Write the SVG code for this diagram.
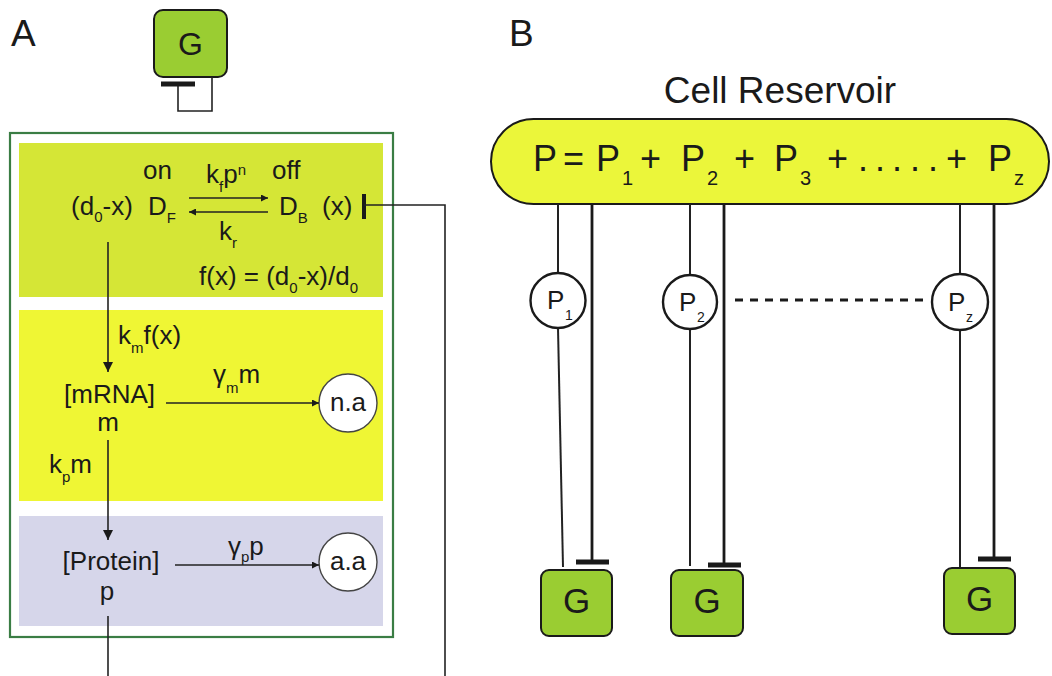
<svg xmlns="http://www.w3.org/2000/svg" width="1052" height="676" viewBox="0 0 1052 676">
<defs>
<style>
text{font-family:"Liberation Sans",Arial,sans-serif;fill:#1a1a1a}
.lbl{font-size:37px}
.t{font-size:26px}
.s{font-size:15px}
.big{font-size:36px}
.bs{font-size:20px}
.cp{font-size:26px}
.cs{font-size:14px}
.ln{stroke:#222;stroke-width:1.6;fill:none}
.thin{stroke:#222;stroke-width:2;fill:none}
.thick{stroke:#1a1a1a;stroke-width:2.8;fill:none}
.bar{stroke:#1a1a1a;stroke-width:5;fill:none}
.gbox{fill:#9acd32;stroke:#1a1a1a;stroke-width:2}
.circ{fill:#fff;stroke:#1a1a1a;stroke-width:2.4}
.sink{fill:#fff;stroke:#444;stroke-width:1.4}
</style>
<marker id="ah" viewBox="0 0 10 10" refX="10" refY="5" markerWidth="9" markerHeight="7" markerUnits="userSpaceOnUse" orient="auto"><path d="M0,0 L10,5 L0,10 Z" fill="#1a1a1a"/></marker>
<marker id="ahb" viewBox="0 0 10 10" refX="10" refY="5" markerWidth="10" markerHeight="10" markerUnits="userSpaceOnUse" orient="auto"><path d="M0,0 L10,5 L0,10 Z" fill="#1a1a1a"/></marker>
</defs>
<rect width="1052" height="676" fill="#fff"/>

<text class="lbl" x="11" y="46">A</text>
<text class="lbl" x="509" y="46">B</text>

<g id="geneA">
<rect class="gbox" x="154" y="10" width="73" height="67" rx="9"/>
<text x="190.5" y="55" font-size="32" text-anchor="middle">G</text>
</g>

<g id="cellA">
<rect x="10" y="133" width="383" height="504" fill="#fff" stroke="#3a7d44" stroke-width="2.2"/>
</g>

<g id="panelDNA">
<rect x="19" y="143" width="364" height="154" fill="#d5e636"/>
<text class="t" x="143" y="179">on</text>
<text class="t" x="272" y="179">off</text>
<text class="t" x="206" y="183">k<tspan class="s" dy="9">f</tspan><tspan dy="-9">p</tspan><tspan class="s" dy="-8">n</tspan></text>
<text class="t" x="71" y="215">(d<tspan class="s" dy="7">0</tspan><tspan dy="-7">-x)</tspan></text>
<text class="t" x="148" y="215">D<tspan class="s" dy="8">F</tspan></text>
<text class="t" x="279" y="215">D<tspan class="s" dy="8">B</tspan></text>
<text class="t" x="322" y="215">(x)</text>
<text class="t" x="219" y="240">k<tspan class="s" dy="8">r</tspan></text>
<text class="t" x="199" y="285">f(x) = (d<tspan class="s" dy="8">0</tspan><tspan dy="-8">-x)/d</tspan><tspan class="s" dy="8">0</tspan></text>
</g>

<g id="panelMRNA">
<rect x="19" y="310" width="364" height="191" fill="#eff634"/>
<text class="t" x="118" y="344">k<tspan class="s" dy="9">m</tspan><tspan dy="-9">f(x)</tspan></text>
<text class="t" x="109.5" y="403" text-anchor="middle">[mRNA]</text>
<text class="t" x="108" y="431" text-anchor="middle">m</text>
<text class="t" x="213" y="383">γ<tspan class="s" dy="10">m</tspan><tspan dy="-10">m</tspan></text>
<text class="t" x="49" y="473">k<tspan class="s" dy="9">p</tspan><tspan dy="-9">m</tspan></text>
</g>

<g id="sinkNA">
<circle class="sink" cx="348" cy="403" r="29"/>
<text class="t" x="348" y="411" text-anchor="middle">n.a</text>
</g>

<g id="panelProtein">
<rect x="19" y="516" width="364" height="110" fill="#d6d6ea"/>
<text class="t" x="111" y="570" text-anchor="middle">[Protein]</text>
<text class="t" x="107" y="600" text-anchor="middle">p</text>
<text class="t" x="228" y="555">γ<tspan class="s" dy="7">p</tspan><tspan dy="-7">p</tspan></text>
</g>

<g id="sinkAA">
<circle class="sink" cx="348" cy="562" r="29"/>
<text class="t" x="348" y="570" text-anchor="middle">a.a</text>
</g>

<g id="reservoir">
<text x="780" y="103" font-size="37" text-anchor="middle">Cell Reservoir</text>
<rect x="491" y="119" width="558" height="85" rx="42.5" fill="#ebf63a" stroke="#1a1a1a" stroke-width="2"/>
<text class="big" x="533" y="171">P</text>
<text class="big" x="563" y="171">=</text>
<text class="big" x="596" y="171">P</text><text class="bs" x="622" y="185">1</text>
<text class="big" x="640" y="171">+</text>
<text class="big" x="681" y="171">P</text><text class="bs" x="707" y="185">2</text>
<text class="big" x="734" y="171">+</text>
<text class="big" x="774" y="171">P</text><text class="bs" x="800" y="185">3</text>
<text class="big" x="827" y="171">+</text>
<text class="big" x="858 875 892 910 928" y="171">.....</text>
<text class="big" x="946" y="171">+</text>
<text class="big" x="988" y="171">P</text><text class="bs" x="1014" y="185">z</text>
</g>

<g id="connectors">
<!-- panel A -->
<path class="ln" d="M212,77 V111 H178 V86"/>
<line class="bar" x1="161" y1="84" x2="195" y2="84"/>
<line class="ln" x1="189" y1="198" x2="268" y2="198" marker-end="url(#ah)"/>
<line class="ln" x1="268" y1="212" x2="189" y2="212" marker-end="url(#ah)"/>
<line x1="364" y1="194" x2="364" y2="219" stroke="#1a1a1a" stroke-width="4"/>
<path class="ln" d="M364,205 H445 V676"/>
<line class="ln" x1="108" y1="242" x2="108" y2="372" marker-end="url(#ahb)"/>
<line class="ln" x1="108" y1="440" x2="108" y2="540" marker-end="url(#ahb)"/>
<line class="ln" x1="166" y1="403" x2="319" y2="403" marker-end="url(#ah)"/>
<line class="ln" x1="175" y1="565" x2="319" y2="565" marker-end="url(#ah)"/>
<line class="ln" x1="108" y1="616" x2="108" y2="676"/>
<!-- panel B -->
<line class="thin" x1="558" y1="204" x2="558" y2="273"/>
<line class="thin" x1="558" y1="328" x2="563" y2="567"/>
<line class="thick" x1="592" y1="204" x2="592" y2="562"/>
<line class="bar" x1="576" y1="562" x2="609" y2="562"/>
<line class="thin" x1="690" y1="204" x2="690" y2="275"/>
<line class="thin" x1="690" y1="329" x2="690" y2="566"/>
<line class="thick" x1="724" y1="204" x2="724" y2="565"/>
<line class="bar" x1="708" y1="565" x2="741" y2="565"/>
<line class="thin" x1="960" y1="204" x2="960" y2="274"/>
<line class="thin" x1="960" y1="330" x2="960" y2="572"/>
<line class="thick" x1="994" y1="204" x2="994" y2="559"/>
<line class="bar" x1="978" y1="559" x2="1011" y2="559"/>
<line x1="735" y1="300" x2="923" y2="300" stroke="#1a1a1a" stroke-width="3" stroke-dasharray="8 7"/>
</g>

<g id="P1">
<circle class="circ" cx="558" cy="300.5" r="27.5"/>
<text class="cp" x="547" y="309">P</text><text class="cs" x="565" y="320">1</text>
</g>
<g id="P2">
<circle class="circ" cx="690" cy="302" r="27"/>
<text class="cp" x="679" y="311">P</text><text class="cs" x="697" y="322">2</text>
</g>
<g id="Pz">
<circle class="circ" cx="960" cy="302" r="28"/>
<text class="cp" x="948" y="311">P</text><text class="cs" x="966" y="322">z</text>
</g>

<g id="G1">
<rect class="gbox" x="541" y="570" width="71" height="66" rx="8"/>
<text x="576.5" y="613" font-size="35" text-anchor="middle">G</text>
</g>
<g id="G2">
<rect class="gbox" x="671" y="570" width="72" height="66" rx="8"/>
<text x="707" y="613" font-size="35" text-anchor="middle">G</text>
</g>
<g id="Gz">
<rect class="gbox" x="944" y="568" width="71" height="66" rx="8"/>
<text x="979.5" y="611" font-size="35" text-anchor="middle">G</text>
</g>
</svg>
